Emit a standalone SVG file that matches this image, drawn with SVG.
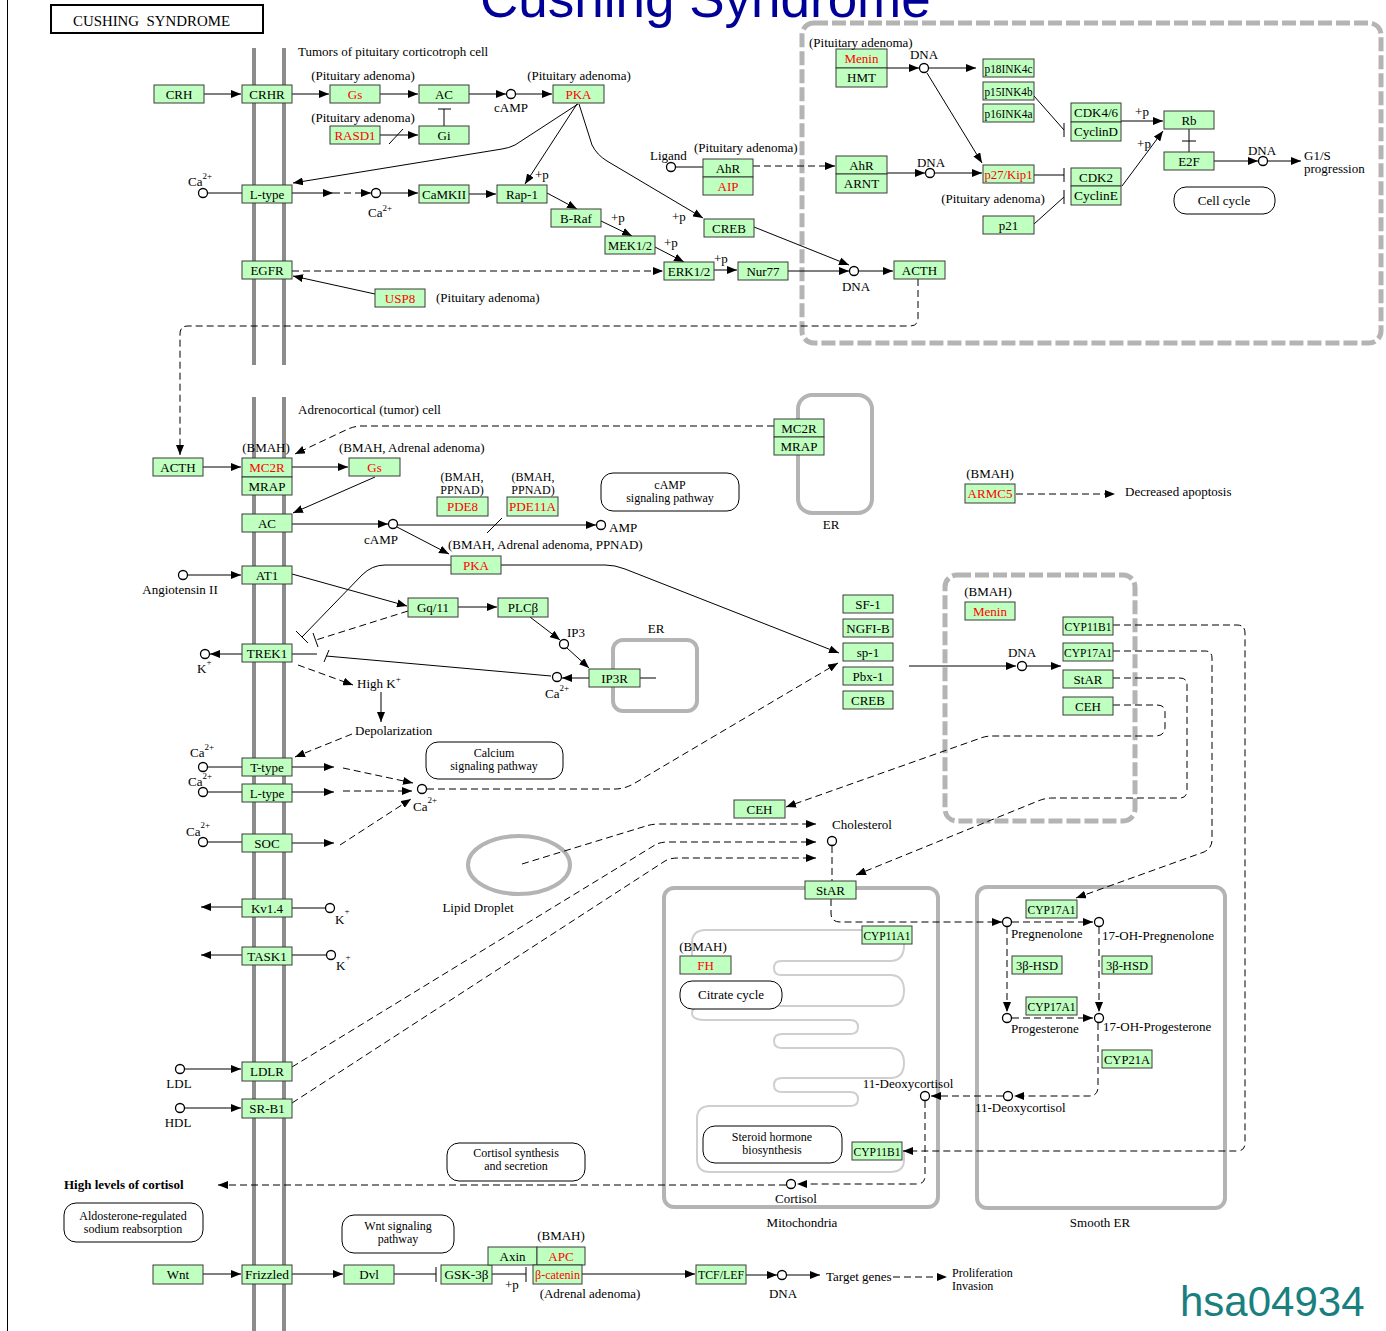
<svg xmlns="http://www.w3.org/2000/svg" width="1386" height="1331" viewBox="0 0 1386 1331">
<defs>
<style>
.b{fill:#bfffbf;stroke:#3a3a3a;stroke-width:1}
.t{font-family:"Liberation Serif","Times New Roman",serif;font-size:13px;text-anchor:middle;fill:#000}
.r{fill:#ff0000}
.l{font-family:"Liberation Serif","Times New Roman",serif;font-size:13px;fill:#000}
.s{font-size:12px}
.m{text-anchor:middle}
.e{stroke:#000;stroke-width:1;fill:none}
.d{stroke:#000;stroke-width:1;fill:none;stroke-dasharray:7,4}
.ea{marker-end:url(#a)}
.c{fill:#fff;stroke:#000;stroke-width:1.3}
.mem{stroke:#8c8c8c;stroke-width:4}
.cmp{fill:none;stroke:#b4b4b4;stroke-width:4}
.dc{fill:none;stroke:#b4b4b4;stroke-width:5;stroke-dasharray:14,4}
.pw{fill:#fff;stroke:#000;stroke-width:1}
.sup{font-size:9px}
</style>
<marker id="a" viewBox="0 0 10 8" refX="10" refY="4" markerWidth="10" markerHeight="8" markerUnits="userSpaceOnUse" orient="auto"><path d="M0,0L10,4L0,8z" fill="#000"/></marker>
</defs>
<rect width="1386" height="1331" fill="#fff"/>
<line x1="7.5" y1="0" x2="7.5" y2="1331" stroke="#000" stroke-width="1"/>

<g id="compartments">
<line class="mem" x1="254" y1="48" x2="254" y2="365"/>
<line class="mem" x1="284" y1="48" x2="284" y2="365"/>
<line class="mem" x1="254" y1="397" x2="254" y2="1331"/>
<line class="mem" x1="284" y1="397" x2="284" y2="1331"/>
<rect class="dc" x="802" y="23" width="579" height="320" rx="12"/>
<rect class="cmp" x="798" y="395" width="74" height="118" rx="14"/>
<rect class="cmp" x="613" y="640" width="84" height="71" rx="10"/>
<rect class="dc" x="945" y="575" width="190" height="246" rx="12"/>
<ellipse class="cmp" cx="519" cy="865" rx="51" ry="29"/>
<rect class="cmp" x="664" y="888" width="274" height="319" rx="10"/>
<rect class="cmp" x="977" y="887" width="248" height="321" rx="10"/>
<path fill="none" stroke="#cfcfcf" stroke-width="2" d="M692,957 V943 Q692,930 706,930 H890 Q904,930 904,945.5 Q904,961 890,961 H781 Q774,961 774,968 Q774,975 781,975 H890 Q904,975 904,990.5 Q904,1006 890,1006 H705 Q692,1006 692,1013 Q692,1020 705,1020 H850 Q858,1020 858,1027 Q858,1034 850,1034 H782 Q774,1034 774,1041 Q774,1048 782,1048 H890 Q904,1048 904,1063 Q904,1078 890,1078 H782 Q774,1078 774,1085 Q774,1092 782,1092 H850 Q858,1092 858,1099 Q858,1106 850,1106 H710 Q697,1106 697,1119 V1159 Q697,1172 710,1172 H890 Q904,1172 904,1160 V1150"/>
<text class="l m" x="831" y="529">ER</text>
<text class="l m" x="656" y="633">ER</text>
<text class="l m" x="478" y="912">Lipid Droplet</text>
<text class="l m" x="802" y="1227">Mitochondria</text>
<text class="l m" x="1100" y="1227">Smooth ER</text>
</g>

<g id="connectors">
<path class="e ea" d="M204,94 H241"/>
<path class="e ea" d="M292,94 H329"/>
<path class="e ea" d="M380,94 H418"/>
<path class="e ea" d="M469,94 H506"/>
<path class="e ea" d="M516,94 H552"/>
<path class="e" d="M444,126 V109 M438,109 H451"/>
<path class="e ea" d="M380,135 H418"/>
<path class="e" d="M389,144 L403,129"/>
<path class="e ea" d="M578,104 L515,145 Q509,148 502,149 L293,183"/>
<path class="e" d="M208,193 H242"/>
<path class="e ea" d="M292,193 H333"/>
<path class="d ea" d="M333,193 H371"/>
<path class="e ea" d="M381,193 H418"/>
<path class="e ea" d="M469,194 H496"/>
<path class="e ea" d="M577,104 L525,184"/>
<path class="e ea" d="M547,193 L577,209"/>
<path class="e ea" d="M601,221 L632,236"/>
<path class="e ea" d="M655,247 L684,262"/>
<path class="e ea" d="M714,270 H737"/>
<path class="e ea" d="M788,271 H849"/>
<path class="e ea" d="M579,104 L592,145 Q597,155 607,161 L703,218"/>
<path class="e ea" d="M754,227 L849,265"/>
<path class="e ea" d="M859,271 H893"/>
<path class="d ea" d="M292,271 H663"/>
<path class="e ea" d="M375,294 L293,276"/>
<path class="d ea" d="M918,279 V318 Q918,326 910,326 H188 Q180,326 180,334 V455"/>
<path class="e" d="M676,167 H703"/>
<path class="d ea" d="M753,166 H835"/>
<path class="e ea" d="M887,68 H919"/>
<path class="e ea" d="M929,68 H976"/>
<path class="e ea" d="M927,73 L982,163"/>
<path class="e ea" d="M887,173 H925"/>
<path class="e ea" d="M935,173 H982"/>
<path class="e" d="M1034,96 L1064,130 M1064,123 V137"/>
<path class="e" d="M1034,175 H1064 M1064,168 V182"/>
<path class="e" d="M1034,224 L1064,197 M1064,190 V204"/>
<path class="e ea" d="M1121,121 H1163"/>
<path class="e ea" d="M1122,186 L1163,131"/>
<path class="e" d="M1189,129 V152 M1182,141 H1196"/>
<path class="e ea" d="M1214,161 H1258"/>
<path class="e ea" d="M1268,161 H1301"/>

<path class="e ea" d="M203,467 H241"/>
<path class="d ea" d="M774,426 H362 Q355,426 348,429 L295,454"/>
<path class="e ea" d="M292,467 H348"/>
<path class="e ea" d="M375,477 L293,513"/>
<path class="e ea" d="M292,524 H388"/>
<path class="e ea" d="M398,525 H596"/>
<path class="e" d="M502,518 L487,533"/>
<path class="e ea" d="M397,527 L449,554"/>
<path class="e ea" d="M501,565 H605 Q615,565 625,569 L839,653"/>
<path class="e" d="M451,565 H385 Q372,565 362,575 L302,637 M296,631 L308,643"/>
<path class="d" d="M408,611 L316,640"/>
<path class="e" d="M313,633 L318,647"/>
<path class="e ea" d="M188,575 H241"/>
<path class="e ea" d="M292,574 L407,606"/>
<path class="e ea" d="M458,607 H497"/>
<path class="e ea" d="M530,617 L560,640"/>
<path class="e ea" d="M567,648 L589,668"/>
<path class="e ea" d="M589,678 H562"/>
<path class="e" d="M640,678 H656"/>
<path class="e" d="M551,676 L326,656 M324,662 L329,650"/>
<path class="e" d="M292,654 H317"/>
<path class="e ea" d="M242,654 H210"/>
<path class="d ea" d="M298,665 L353,685"/>
<path class="e ea" d="M381,692 V722"/>
<path class="d ea" d="M352,734 L295,757"/>
<path class="e" d="M208,767 H242"/>
<path class="e ea" d="M292,767 H334"/>
<path class="d ea" d="M343,768 L413,783"/>
<path class="e" d="M208,792 H242"/>
<path class="e ea" d="M292,792 H334"/>
<path class="d ea" d="M343,791 H412"/>
<path class="e" d="M208,842 H242"/>
<path class="e ea" d="M292,843 H334"/>
<path class="d ea" d="M340,845 L411,799"/>
<path class="d ea" d="M427,789 H615 Q625,789 635,783 L838,663"/>
<path class="e ea" d="M909,666 H1016"/>
<path class="e ea" d="M1027,666 H1061"/>
<path class="d ea" d="M1016,494 H1115"/>
<path class="d ea" d="M1113,625 H1237 Q1245,625 1245,633 V1143 Q1245,1151 1237,1151 H903"/>
<path class="d ea" d="M1113,651 H1205 Q1212,651 1212,658 V840 Q1212,848 1204,852 L1076,898"/>
<path class="d ea" d="M1113,678 H1180 Q1187,678 1187,685 V790 Q1187,798 1180,798 H1052 Q1045,798 1038,801 L856,875"/>
<path class="d ea" d="M1113,705 H1157 Q1165,705 1165,712 V727 Q1165,736 1155,736 H992 Q985,736 978,739 L786,807"/>
<path class="d ea" d="M522,864 L646,826 Q652,824 660,824 H816"/>
<path class="d ea" d="M292,1067 L655,845 Q660,842 668,842 H816"/>
<path class="d ea" d="M292,1103 L665,861 Q670,858 678,858 H816"/>
<path class="d" d="M832,846 V881"/>
<path class="e ea" d="M242,907 H201"/>
<path class="e" d="M292,908 H325"/>
<path class="e ea" d="M242,955 H201"/>
<path class="e" d="M292,955 H326"/>
<path class="e ea" d="M185,1069 H241"/>
<path class="e ea" d="M185,1108 H241"/>
<path class="d ea" d="M831,899 V913 Q831,922 840,922 H1002"/>
<path class="d ea" d="M1012,922 H1093"/>
<path class="d ea" d="M1007,927 V1012"/>
<path class="d ea" d="M1099,927 V1012"/>
<path class="d ea" d="M1012,1018 H1093"/>
<path class="d ea" d="M1098,1023 V1087 Q1098,1096 1089,1096 H1014"/>
<path class="d ea" d="M1003,1096 H931"/>
<path class="d ea" d="M925,1101 V1176 Q925,1184 917,1184 H797"/>
<path class="d ea" d="M786,1185 H218"/>
<path class="e ea" d="M203,1274 H241"/>
<path class="e ea" d="M292,1274 H343"/>
<path class="e" d="M394,1274 H436 M436,1267 V1282"/>
<path class="e" d="M492,1274 H526 M526,1267 V1282"/>
<path class="e ea" d="M582,1274 H695"/>
<path class="e ea" d="M746,1275 H777"/>
<path class="e ea" d="M787,1275 H820"/>
<path class="d ea" d="M893,1277 H947"/>
</g>

<g id="compounds">
<circle id="c_ca1" class="c" cx="203" cy="193" r="4.5"/>
<circle id="c_ca2" class="c" cx="376" cy="193" r="4.5"/>
<circle id="c_camp1" class="c" cx="511" cy="94" r="4.5"/>
<circle id="c_dna1" class="c" cx="854" cy="271" r="4.5"/>
<circle id="c_lig" class="c" cx="671" cy="167" r="4.5"/>
<circle id="c_dna2" class="c" cx="924" cy="68" r="4.5"/>
<circle id="c_dna3" class="c" cx="930" cy="173" r="4.5"/>
<circle id="c_dna4" class="c" cx="1263" cy="161" r="4.5"/>
<circle id="c_camp2" class="c" cx="393" cy="524" r="4.5"/>
<circle id="c_amp" class="c" cx="601" cy="525" r="4.5"/>
<circle id="c_ang" class="c" cx="183" cy="575" r="4.5"/>
<circle id="c_k1" class="c" cx="205" cy="654" r="4.5"/>
<circle id="c_ip3" class="c" cx="564" cy="644" r="4.5"/>
<circle id="c_ca3" class="c" cx="557" cy="677" r="4.5"/>
<circle id="c_ca4" class="c" cx="203" cy="767" r="4.5"/>
<circle id="c_ca5" class="c" cx="203" cy="792" r="4.5"/>
<circle id="c_ca6" class="c" cx="203" cy="842" r="4.5"/>
<circle id="c_ca7" class="c" cx="422" cy="789" r="4.5"/>
<circle id="c_dna5" class="c" cx="1022" cy="666" r="4.5"/>
<circle id="c_chol" class="c" cx="832" cy="841" r="4.5"/>
<circle id="c_k2" class="c" cx="330" cy="908" r="4.5"/>
<circle id="c_k3" class="c" cx="331" cy="955" r="4.5"/>
<circle id="c_ldl" class="c" cx="180" cy="1069" r="4.5"/>
<circle id="c_hdl" class="c" cx="180" cy="1108" r="4.5"/>
<circle id="c_preg" class="c" cx="1007" cy="922" r="4.5"/>
<circle id="c_17preg" class="c" cx="1099" cy="922" r="4.5"/>
<circle id="c_prog" class="c" cx="1007" cy="1018" r="4.5"/>
<circle id="c_17prog" class="c" cx="1099" cy="1018" r="4.5"/>
<circle id="c_11d1" class="c" cx="1008" cy="1096" r="4.5"/>
<circle id="c_11d2" class="c" cx="925" cy="1096" r="4.5"/>
<circle id="c_cort" class="c" cx="791" cy="1184" r="4.5"/>
<circle id="c_dna6" class="c" cx="782" cy="1275" r="4.5"/>
</g>

<g id="pathways">
<g id="p_camp"><rect class="pw" x="601" y="473" width="138" height="38" rx="12"/><text class="l s m" x="670" y="489">cAMP</text><text class="l s m" x="670" y="502">signaling pathway</text></g>
<g id="p_cellcycle"><rect class="pw" x="1174" y="187" width="101" height="27" rx="12"/><text class="l m" x="1224" y="205">Cell cycle</text></g>
<g id="p_calcium"><rect class="pw" x="426" y="742" width="137" height="37" rx="12"/><text class="l s m" x="494" y="757">Calcium</text><text class="l s m" x="494" y="770">signaling pathway</text></g>
<g id="p_citrate"><rect class="pw" x="680" y="981" width="102" height="28" rx="12"/><text class="l m" x="731" y="999">Citrate cycle</text></g>
<g id="p_steroid"><rect class="pw" x="703" y="1126" width="139" height="37" rx="12"/><text class="l s m" x="772" y="1141">Steroid hormone</text><text class="l s m" x="772" y="1154">biosynthesis</text></g>
<g id="p_cortisol"><rect class="pw" x="447" y="1143" width="138" height="38" rx="12"/><text class="l s m" x="516" y="1157">Cortisol synthesis</text><text class="l s m" x="516" y="1170">and secretion</text></g>
<g id="p_aldo"><rect class="pw" x="64" y="1203" width="139" height="39" rx="12"/><text class="l s m" x="133" y="1220">Aldosterone-regulated</text><text class="l s m" x="133" y="1233">sodium reabsorption</text></g>
<g id="p_wnt"><rect class="pw" x="342" y="1215" width="112" height="38" rx="12"/><text class="l s m" x="398" y="1230">Wnt signaling</text><text class="l s m" x="398" y="1243">pathway</text></g>
</g>

<g id="nodes">
<g id="n_crh"><rect class="b" x="154" y="85" width="50" height="18"/><text class="t" x="179" y="99">CRH</text></g>
<g id="n_crhr"><rect class="b" x="242" y="85" width="50" height="18"/><text class="t" x="267" y="99">CRHR</text></g>
<g id="n_gs1"><rect class="b" x="330" y="85" width="50" height="18"/><text class="t r" x="355" y="99">Gs</text></g>
<g id="n_ac1"><rect class="b" x="419" y="85" width="50" height="18"/><text class="t" x="444" y="99">AC</text></g>
<g id="n_gi"><rect class="b" x="419" y="126" width="50" height="18"/><text class="t" x="444" y="140">Gi</text></g>
<g id="n_rasd1"><rect class="b" x="330" y="126" width="50" height="18"/><text class="t r" x="355" y="140">RASD1</text></g>
<g id="n_pka1"><rect class="b" x="553" y="85" width="51" height="18"/><text class="t r" x="578.5" y="99">PKA</text></g>
<g id="n_ltype1"><rect class="b" x="242" y="185" width="50" height="18"/><text class="t" x="267" y="199">L-type</text></g>
<g id="n_camkii"><rect class="b" x="419" y="185" width="50" height="18"/><text class="t" x="444" y="199">CaMKII</text></g>
<g id="n_rap1"><rect class="b" x="497" y="185" width="50" height="18"/><text class="t" x="522" y="199">Rap-1</text></g>
<g id="n_braf"><rect class="b" x="551" y="209" width="50" height="18"/><text class="t" x="576" y="223">B-Raf</text></g>
<g id="n_mek"><rect class="b" x="605" y="236" width="50" height="18"/><text class="t" x="630" y="250" textLength="44" lengthAdjust="spacingAndGlyphs">MEK1/2</text></g>
<g id="n_erk"><rect class="b" x="664" y="262" width="50" height="18"/><text class="t" x="689" y="276">ERK1/2</text></g>
<g id="n_nur77"><rect class="b" x="738" y="262" width="50" height="18"/><text class="t" x="763" y="276">Nur77</text></g>
<g id="n_creb1"><rect class="b" x="704" y="219" width="50" height="18"/><text class="t" x="729" y="233">CREB</text></g>
<g id="n_acth1"><rect class="b" x="894" y="261" width="51" height="18"/><text class="t" x="919.5" y="275">ACTH</text></g>
<g id="n_egfr"><rect class="b" x="242" y="261" width="50" height="18"/><text class="t" x="267" y="275">EGFR</text></g>
<g id="n_usp8"><rect class="b" x="375" y="289" width="50" height="18"/><text class="t r" x="400" y="303">USP8</text></g>
<g id="n_ahr_aip"><rect class="b" x="703" y="159" width="50" height="18"/><text class="t" x="728" y="173">AhR</text><rect class="b" x="703" y="177" width="50" height="18"/><text class="t r" x="728" y="191">AIP</text></g>
<g id="n_menin_hmt"><rect class="b" x="836" y="49" width="51" height="19"/><text class="t r" x="861.5" y="63">Menin</text><rect class="b" x="836" y="68" width="51" height="19"/><text class="t" x="861.5" y="82">HMT</text></g>
<g id="n_ahr_arnt"><rect class="b" x="836" y="156" width="51" height="18"/><text class="t" x="861.5" y="170">AhR</text><rect class="b" x="836" y="174" width="51" height="19"/><text class="t" x="861.5" y="188">ARNT</text></g>
<g id="n_p18"><rect class="b" x="983" y="59" width="51" height="18"/><text class="t" x="1008.5" y="73" textLength="48" lengthAdjust="spacingAndGlyphs">p18INK4c</text></g>
<g id="n_p15"><rect class="b" x="983" y="82" width="51" height="18"/><text class="t" x="1008.5" y="96" textLength="48" lengthAdjust="spacingAndGlyphs">p15INK4b</text></g>
<g id="n_p16"><rect class="b" x="983" y="104" width="51" height="18"/><text class="t" x="1008.5" y="118" textLength="48" lengthAdjust="spacingAndGlyphs">p16INK4a</text></g>
<g id="n_p27"><rect class="b" x="983" y="165" width="51" height="18"/><text class="t r" x="1008.5" y="179" textLength="48" lengthAdjust="spacingAndGlyphs">p27/Kip1</text></g>
<g id="n_p21"><rect class="b" x="983" y="216" width="51" height="18"/><text class="t" x="1008.5" y="230">p21</text></g>
<g id="n_cdk46"><rect class="b" x="1071" y="103" width="50" height="19"/><text class="t" x="1096" y="117" textLength="44" lengthAdjust="spacingAndGlyphs">CDK4/6</text><rect class="b" x="1071" y="122" width="50" height="19"/><text class="t" x="1096" y="136" textLength="44" lengthAdjust="spacingAndGlyphs">CyclinD</text></g>
<g id="n_cdk2"><rect class="b" x="1071" y="168" width="50" height="18"/><text class="t" x="1096" y="182">CDK2</text><rect class="b" x="1071" y="186" width="50" height="19"/><text class="t" x="1096" y="200" textLength="44" lengthAdjust="spacingAndGlyphs">CyclinE</text></g>
<g id="n_rb"><rect class="b" x="1164" y="111" width="50" height="18"/><text class="t" x="1189" y="125">Rb</text></g>
<g id="n_e2f"><rect class="b" x="1164" y="152" width="50" height="18"/><text class="t" x="1189" y="166">E2F</text></g>

<g id="n_acth2"><rect class="b" x="153" y="458" width="50" height="18"/><text class="t" x="178" y="472">ACTH</text></g>
<g id="n_mc2r"><rect class="b" x="242" y="458" width="50" height="19"/><text class="t r" x="267" y="472">MC2R</text><rect class="b" x="242" y="477" width="50" height="18"/><text class="t" x="267" y="491">MRAP</text></g>
<g id="n_gs2"><rect class="b" x="349" y="458" width="51" height="18"/><text class="t r" x="374.5" y="472">Gs</text></g>
<g id="n_ac2"><rect class="b" x="242" y="514" width="50" height="18"/><text class="t" x="267" y="528">AC</text></g>
<g id="n_pde8"><rect class="b" x="437" y="497" width="51" height="19"/><text class="t r" x="462.5" y="511">PDE8</text></g>
<g id="n_pde11a"><rect class="b" x="507" y="497" width="51" height="19"/><text class="t r" x="532.5" y="511" textLength="47" lengthAdjust="spacingAndGlyphs">PDE11A</text></g>
<g id="n_pka2"><rect class="b" x="451" y="556" width="50" height="18"/><text class="t r" x="476" y="570">PKA</text></g>
<g id="n_at1"><rect class="b" x="242" y="566" width="50" height="18"/><text class="t" x="267" y="580">AT1</text></g>
<g id="n_gq"><rect class="b" x="408" y="598" width="50" height="19"/><text class="t" x="433" y="612">Gq/11</text></g>
<g id="n_plcb"><rect class="b" x="498" y="598" width="50" height="19"/><text class="t" x="523" y="612">PLCβ</text></g>
<g id="n_trek1"><rect class="b" x="242" y="644" width="50" height="18"/><text class="t" x="267" y="658">TREK1</text></g>
<g id="n_ip3r"><rect class="b" x="589" y="669" width="51" height="18"/><text class="t" x="614.5" y="683">IP3R</text></g>
<g id="n_mc2r_er"><rect class="b" x="774" y="419" width="50" height="18"/><text class="t" x="799" y="433">MC2R</text><rect class="b" x="774" y="437" width="50" height="18"/><text class="t" x="799" y="451">MRAP</text></g>
<g id="n_sf1"><rect class="b" x="843" y="595" width="50" height="18"/><text class="t" x="868" y="609">SF-1</text></g>
<g id="n_ngfib"><rect class="b" x="843" y="619" width="50" height="18"/><text class="t" x="868" y="633">NGFI-B</text></g>
<g id="n_sp1"><rect class="b" x="843" y="643" width="50" height="18"/><text class="t" x="868" y="657">sp-1</text></g>
<g id="n_pbx1"><rect class="b" x="843" y="667" width="50" height="18"/><text class="t" x="868" y="681">Pbx-1</text></g>
<g id="n_creb2"><rect class="b" x="843" y="691" width="50" height="18"/><text class="t" x="868" y="705">CREB</text></g>
<g id="n_armc5"><rect class="b" x="965" y="484" width="50" height="19"/><text class="t r" x="990" y="498">ARMC5</text></g>
<g id="n_menin2"><rect class="b" x="965" y="602" width="50" height="18"/><text class="t r" x="990" y="616">Menin</text></g>
<g id="n_cyp11b1a"><rect class="b" x="1063" y="617" width="50" height="18"/><text class="t" x="1088" y="631" textLength="47" lengthAdjust="spacingAndGlyphs">CYP11B1</text></g>
<g id="n_cyp17a1a"><rect class="b" x="1063" y="643" width="50" height="18"/><text class="t" x="1088" y="657" textLength="48" lengthAdjust="spacingAndGlyphs">CYP17A1</text></g>
<g id="n_stara"><rect class="b" x="1063" y="670" width="50" height="18"/><text class="t" x="1088" y="684">StAR</text></g>
<g id="n_ceha"><rect class="b" x="1063" y="697" width="50" height="18"/><text class="t" x="1088" y="711">CEH</text></g>
<g id="n_ttype"><rect class="b" x="242" y="758" width="50" height="18"/><text class="t" x="267" y="772">T-type</text></g>
<g id="n_ltype2"><rect class="b" x="242" y="784" width="50" height="18"/><text class="t" x="267" y="798">L-type</text></g>
<g id="n_soc"><rect class="b" x="242" y="834" width="50" height="18"/><text class="t" x="267" y="848">SOC</text></g>
<g id="n_cehb"><rect class="b" x="734" y="800" width="51" height="18"/><text class="t" x="759.5" y="814">CEH</text></g>
<g id="n_kv14"><rect class="b" x="242" y="899" width="50" height="18"/><text class="t" x="267" y="913">Kv1.4</text></g>
<g id="n_task1"><rect class="b" x="242" y="947" width="50" height="18"/><text class="t" x="267" y="961">TASK1</text></g>
<g id="n_ldlr"><rect class="b" x="242" y="1062" width="50" height="19"/><text class="t" x="267" y="1076">LDLR</text></g>
<g id="n_srb1"><rect class="b" x="242" y="1099" width="50" height="19"/><text class="t" x="267" y="1113">SR-B1</text></g>
<g id="n_starb"><rect class="b" x="805" y="881" width="51" height="18"/><text class="t" x="830.5" y="895">StAR</text></g>
<g id="n_cyp11a1"><rect class="b" x="862" y="926" width="50" height="18"/><text class="t" x="887" y="940" textLength="47" lengthAdjust="spacingAndGlyphs">CYP11A1</text></g>
<g id="n_fh"><rect class="b" x="680" y="956" width="51" height="18"/><text class="t r" x="705.5" y="970">FH</text></g>
<g id="n_cyp11b1b"><rect class="b" x="852" y="1142" width="50" height="18"/><text class="t" x="877" y="1156" textLength="47" lengthAdjust="spacingAndGlyphs">CYP11B1</text></g>
<g id="n_cyp17a1b"><rect class="b" x="1026" y="900" width="51" height="18"/><text class="t" x="1051.5" y="914" textLength="48" lengthAdjust="spacingAndGlyphs">CYP17A1</text></g>
<g id="n_hsd1"><rect class="b" x="1012" y="956" width="50" height="18"/><text class="t" x="1037" y="970" textLength="42" lengthAdjust="spacingAndGlyphs">3β-HSD</text></g>
<g id="n_hsd2"><rect class="b" x="1102" y="956" width="50" height="18"/><text class="t" x="1127" y="970" textLength="42" lengthAdjust="spacingAndGlyphs">3β-HSD</text></g>
<g id="n_cyp17a1c"><rect class="b" x="1026" y="997" width="51" height="18"/><text class="t" x="1051.5" y="1011" textLength="48" lengthAdjust="spacingAndGlyphs">CYP17A1</text></g>
<g id="n_cyp21a"><rect class="b" x="1102" y="1050" width="50" height="18"/><text class="t" x="1127" y="1064" textLength="46" lengthAdjust="spacingAndGlyphs">CYP21A</text></g>

<g id="n_wnt"><rect class="b" x="153" y="1265" width="50" height="19"/><text class="t" x="178" y="1279">Wnt</text></g>
<g id="n_frizzled"><rect class="b" x="242" y="1265" width="50" height="19"/><text class="t" x="267" y="1279" textLength="44" lengthAdjust="spacingAndGlyphs">Frizzled</text></g>
<g id="n_dvl"><rect class="b" x="344" y="1265" width="50" height="19"/><text class="t" x="369" y="1279">Dvl</text></g>
<g id="n_gsk3b"><rect class="b" x="441" y="1265" width="51" height="19"/><text class="t" x="466.5" y="1279" textLength="44" lengthAdjust="spacingAndGlyphs">GSK-3β</text></g>
<g id="n_axin_apc"><rect class="b" x="488" y="1247" width="49" height="18"/><text class="t" x="512.5" y="1261">Axin</text><rect class="b" x="537" y="1247" width="48" height="18"/><text class="t r" x="561" y="1261">APC</text></g>
<g id="n_bcat"><rect class="b" x="533" y="1265" width="49" height="19"/><text class="t r" x="557.5" y="1279" textLength="45" lengthAdjust="spacingAndGlyphs">β-catenin</text></g>
<g id="n_tcf"><rect class="b" x="696" y="1265" width="50" height="19"/><text class="t" x="721" y="1279" textLength="46" lengthAdjust="spacingAndGlyphs">TCF/LEF</text></g>
</g>

<g id="labels">
<g id="title"><rect x="51" y="5" width="212" height="28" fill="#fff" stroke="#000" stroke-width="2"/><text class="l" x="73" y="26" style="font-size:15px" textLength="157" lengthAdjust="spacingAndGlyphs">CUSHING&#160; SYNDROME</text></g>
<text x="480" y="17" style="font-family:'Liberation Sans',Arial,sans-serif;font-size:53px" fill="#000099">Cushing Syndrome</text>
<text x="1180" y="1316" style="font-family:'Liberation Sans',Arial,sans-serif;font-size:42px" fill="#1a7f7f">hsa04934</text>

<text class="l" x="298" y="56">Tumors of pituitary corticotroph cell</text>
<text class="l m" x="363" y="80">(Pituitary adenoma)</text>
<text class="l m" x="363" y="122">(Pituitary adenoma)</text>
<text class="l m" x="579" y="80">(Pituitary adenoma)</text>
<text class="l m" x="511" y="112">cAMP</text>
<text class="l" x="188" y="186">Ca<tspan class="sup" dy="-7">2+</tspan></text>
<text class="l" x="368" y="217">Ca<tspan class="sup" dy="-6">2+</tspan></text>
<text class="l" x="535" y="179">+p</text>
<text class="l" x="611" y="222">+p</text>
<text class="l" x="664" y="247">+p</text>
<text class="l" x="714" y="263">+p</text>
<text class="l" x="672" y="221">+p</text>
<text class="l" x="650" y="160">Ligand</text>
<text class="l" x="694" y="152">(Pituitary adenoma)</text>
<text class="l" x="436" y="302">(Pituitary adenoma)</text>
<text class="l m" x="856" y="291">DNA</text>
<text class="l" x="809" y="47">(Pituitary adenoma)</text>
<text class="l m" x="924" y="59">DNA</text>
<text class="l m" x="931" y="167">DNA</text>
<text class="l m" x="993" y="203">(Pituitary adenoma)</text>
<text class="l m" x="1142" y="116">+p</text>
<text class="l m" x="1144" y="148">+p</text>
<text class="l m" x="1262" y="155">DNA</text>
<text class="l" x="1304" y="160">G1/S</text>
<text class="l" x="1304" y="173">progression</text>

<text class="l" x="298" y="414">Adrenocortical (tumor) cell</text>
<text class="l m" x="266" y="452">(BMAH)</text>
<text class="l" x="339" y="452">(BMAH, Adrenal adenoma)</text>
<text class="l s m" x="462" y="481">(BMAH,</text>
<text class="l s m" x="462" y="494">PPNAD)</text>
<text class="l s m" x="533" y="481">(BMAH,</text>
<text class="l s m" x="533" y="494">PPNAD)</text>
<text class="l m" x="381" y="544">cAMP</text>
<text class="l" x="609" y="532">AMP</text>
<text class="l" x="448" y="549">(BMAH, Adrenal adenoma, PPNAD)</text>
<text class="l m" x="180" y="594">Angiotensin II</text>
<text class="l" x="197" y="673">K<tspan class="sup" dy="-8">+</tspan></text>
<text class="l" x="567" y="637">IP3</text>
<text class="l" x="545" y="698">Ca<tspan class="sup" dy="-7">2+</tspan></text>
<text class="l" x="357" y="688">High K<tspan class="sup" dy="-6">+</tspan></text>
<text class="l" x="355" y="735">Depolarization</text>
<text class="l" x="190" y="757">Ca<tspan class="sup" dy="-7">2+</tspan></text>
<text class="l" x="188" y="786">Ca<tspan class="sup" dy="-7">2+</tspan></text>
<text class="l" x="186" y="836">Ca<tspan class="sup" dy="-8">2+</tspan></text>
<text class="l" x="413" y="811">Ca<tspan class="sup" dy="-8">2+</tspan></text>
<text class="l m" x="990" y="478">(BMAH)</text>
<text class="l" x="1125" y="496">Decreased apoptosis</text>
<text class="l m" x="988" y="596">(BMAH)</text>
<text class="l m" x="1022" y="657">DNA</text>
<text class="l" x="832" y="829">Cholesterol</text>
<text class="l" x="335" y="924">K<tspan class="sup" dy="-10">+</tspan></text>
<text class="l" x="336" y="970">K<tspan class="sup" dy="-10">+</tspan></text>
<text class="l m" x="179" y="1088">LDL</text>
<text class="l m" x="178" y="1127">HDL</text>
<text class="l m" x="703" y="951">(BMAH)</text>
<text class="l m" x="908" y="1088">11-Deoxycortisol</text>
<text class="l m" x="796" y="1203">Cortisol</text>
<text class="l" x="1011" y="938">Pregnenolone</text>
<text class="l" x="1102" y="940">17-OH-Pregnenolone</text>
<text class="l" x="1011" y="1033">Progesterone</text>
<text class="l" x="1103" y="1031">17-OH-Progesterone</text>
<text class="l" x="975" y="1112">11-Deoxycortisol</text>
<text class="l" x="64" y="1189" style="font-weight:bold">High levels of cortisol</text>
<text class="l m" x="561" y="1240">(BMAH)</text>
<text class="l" x="505" y="1289">+p</text>
<text class="l m" x="590" y="1298">(Adrenal adenoma)</text>
<text class="l m" x="783" y="1298">DNA</text>
<text class="l" x="826" y="1281">Target genes</text>
<text class="l s" x="952" y="1277">Proliferation</text>
<text class="l s" x="952" y="1290">Invasion</text>
</g>
</svg>
